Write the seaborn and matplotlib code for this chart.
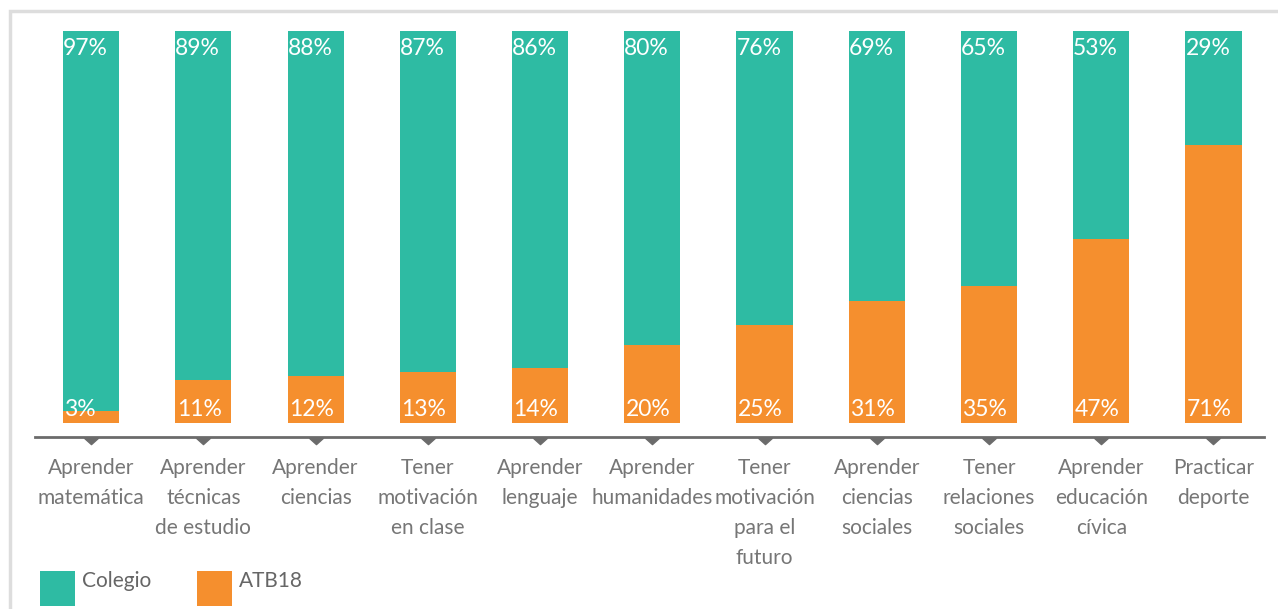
import matplotlib
matplotlib.use("Agg")
import matplotlib.pyplot as plt
import seaborn as sns
import pandas as pd
import numpy as np
from matplotlib.patches import Rectangle
from matplotlib.path import Path
import matplotlib.transforms as mtransforms

categories = ["Aprender\nmatemática", "Aprender\ntécnicas\nde estudio", "Aprender\nciencias",
              "Tener\nmotivación\nen clase", "Aprender\nlenguaje", "Aprender\nhumanidades",
              "Tener\nmotivación\npara el\nfuturo", "Aprender\nciencias\nsociales",
              "Tener\nrelaciones\nsociales", "Aprender\neducación\ncívica", "Practicar\ndeporte"]
colegio = [97, 89, 88, 87, 86, 80, 76, 69, 65, 53, 29]
atb18 = [3, 11, 12, 13, 14, 20, 25, 31, 35, 47, 71]
series_names = ["Colegio", "ATB18"]

TEAL = "#2EBBA3"
ORANGE = "#F58F2E"
GREY = "#767676"
LINE = "#6b6b6b"

sns.set_theme(style="white")
plt.rcParams['font.family'] = ['Lato', 'DejaVu Sans']

df = pd.DataFrame({"cat": categories, "colegio": colegio, "atb18": atb18})
df["total"] = df["colegio"] + df["atb18"]

fig = plt.figure(figsize=(12.78, 6.09), dpi=100)
W, H = 1278, 609
ax = fig.add_axes([35 / W, 1 - 423 / H, (1264 - 35) / W, 392 / H])

sns.barplot(data=df, x="cat", y="total", color=TEAL, width=0.5, ax=ax,
            saturation=1, edgecolor="none", linewidth=0)
sns.barplot(data=df, x="cat", y="atb18", color=ORANGE, width=0.5, ax=ax,
            saturation=1, edgecolor="none", linewidth=0)

n = len(categories)
ax.set_xlim(-0.5, n - 0.55)
ax.set_ylim(0, 100)
ax.set_xlabel("")
ax.set_ylabel("")
ax.set_yticks([])
for s in ["top", "right", "left"]:
    ax.spines[s].set_visible(False)
ax.spines["bottom"].set_position(("outward", 10))
ax.spines["bottom"].set_color(LINE)
ax.spines["bottom"].set_linewidth(2)
ax.tick_params(axis="x", length=0, pad=15.5, labelsize=15, labelcolor=GREY)
for lab in ax.get_xticklabels():
    lab.set_linespacing(1.62)

# value labels
for i, (c, a) in enumerate(zip(colegio, atb18)):
    left = i - 0.25
    ax.annotate(f"{c}%", (left, 100), xytext=(0, -5), textcoords="offset points",
                ha="left", va="top", color="white", fontsize=16.5)
    ax.annotate(f"{a}%", (left, 0), xytext=(1, 5), textcoords="offset points",
                ha="left", va="baseline", color="white", fontsize=16.5)

# small down triangles under the axis line
tri = Path([(-1, 0.45), (1, 0.45), (0, -0.45), (-1, 0.45)],
           [Path.MOVETO, Path.LINETO, Path.LINETO, Path.CLOSEPOLY])
trans = mtransforms.blended_transform_factory(ax.transData, ax.transAxes)
ax.plot(np.arange(n), [-18 / 392] * n, linestyle="none", marker=tri, markersize=10,
        color=LINE, transform=trans, clip_on=False)

# legend (square swatches + labels)
for name, col, x0 in zip(series_names, [TEAL, ORANGE], [40, 197]):
    fig.add_artist(Rectangle((x0 / W, 1 - 606 / H), 35 / W, 35 / H, transform=fig.transFigure,
                             facecolor=col, edgecolor="none"))
    fig.text((x0 + 42) / W, 1 - 587 / H, name, ha="left", va="baseline",
             fontsize=15, color="#666666")

# light frame
fig.add_artist(Rectangle((10 / W, -0.05), 1.1, 1 - 11 / H + 0.05, transform=fig.transFigure,
                         fill=False, edgecolor="#dddddd", linewidth=2.5))

fig.savefig("out.png", dpi=100)
